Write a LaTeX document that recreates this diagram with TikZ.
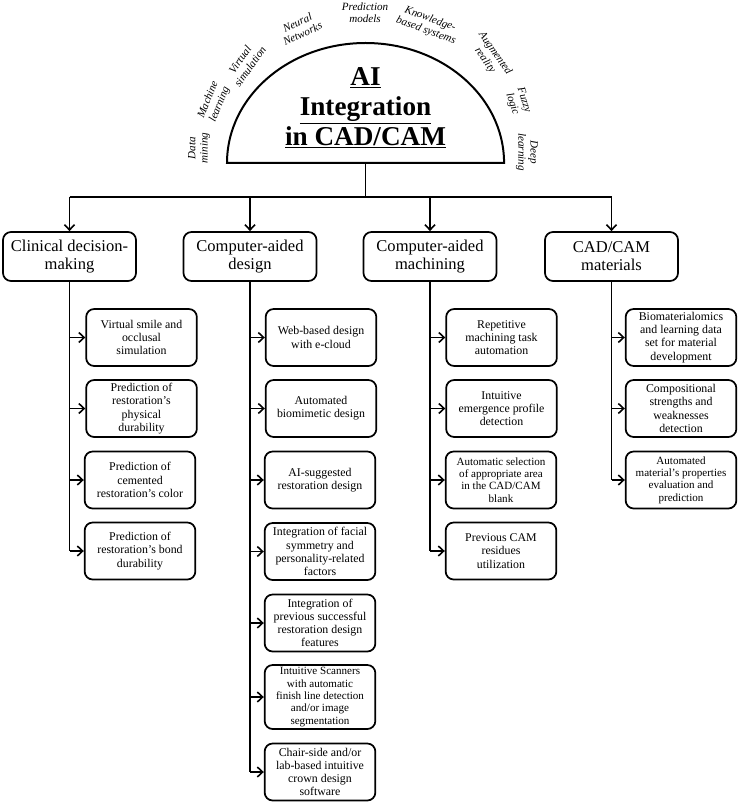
\documentclass[tikz,border=0pt]{standalone}
\usepackage{fontspec}
\setmainfont{Liberation Serif}
\usetikzlibrary{arrows.meta}
\begin{document}
\begin{tikzpicture}[x=0.75pt,y=-0.75pt,
  lw/.style={line width=1.3pt},
  arr/.style={lw,-{Straight Barb[length=4pt,width=7.5pt,line width=1.2pt]}},
  hdr/.style={draw,lw,rounded corners=6pt,align=center,minimum width=99.75pt,minimum height=36.75pt,inner sep=1pt,font=\fontsize{12.4}{13.6}\selectfont},
  box/.style={draw,lw,rounded corners=6pt,align=center,minimum width=83pt,minimum height=42.75pt,inner sep=1pt,font=\fontsize{8.9}{9.9}\selectfont},
  sbox/.style={box,font=\fontsize{8.3}{9.2}\selectfont},
  lab/.style={align=center,inner sep=0pt,font=\fontsize{8.3}{9.2}\selectfont\itshape}]
\useasboundingbox[fill=white] (0,0) rectangle (741,805);

% semicircle
\coordinate (base) at (365.5,163);
\draw[lw,line width=1.5pt] (227,163) arc[start angle=180,end angle=0,x radius=103.9pt,y radius=90pt] -- cycle;
\node[align=center,font=\fontsize{20.4}{22.5}\selectfont\bfseries] (ai) at (365.5,108)
  {\underline{AI}\\\underline{Integration}\\\underline{in CAD/CAM}};

% labels round the arc
\node[lab,rotate=90] (l1) at (199,148) {Data\\mining};
\node[lab,rotate=68] (l2) at (214,102) {Machine\\learning};
\node[lab,rotate=55] (l3) at (245,63) {Virtual\\simulation};
\node[lab,rotate=25] (l4) at (300,28) {Neural\\Networks};
\node[lab] (l5) at (365,13) {Prediction\\models};
\node[lab,rotate=-20] (l6) at (428,25) {Knowledge-\\based systems};
\node[lab,rotate=-55] (l7) at (490,57) {Augmented\\reality};
\node[lab,rotate=-72] (l8) at (518,102) {Fuzzy\\logic};
\node[lab,rotate=-90] (l9) at (527,152) {Deep\\learning};

% headers
\node[hdr] (h1) at (69.5,256.5) {Clinical decision-\\making};
\node[hdr] (h2) at (250,256.5) {Computer-aided\\design};
\node[hdr] (h3) at (430,256.5) {Computer-aided\\machining};
\node[hdr] (h4) at (611.5,256.5) {CAD/CAM\\materials};

\coordinate (bar) at (365.5,197);
\draw[lw] (base) -- (bar);
\draw[lw] (h1.north |- bar) -- (h4.north |- bar);
\foreach \h in {h1,h2,h3,h4} \draw[arr] (\h.north |- bar) -- (\h.north);

% column 1
\node[box] (a1) at (141.5,337.5) {Virtual smile and\\occlusal\\simulation};
\node[box] (a2) at (141.5,408.5) {Prediction of\\restoration's\\physical\\durability};
\node[box] (a3) at (140,480) {Prediction of\\cemented\\restoration's color};
\node[box] (a4) at (140,551) {Prediction of\\restoration's bond\\durability};

% column 2
\node[box] (b1) at (321,337.5) {Web-based design\\with e-cloud};
\node[box] (b2) at (321,408.5) {Automated\\biomimetic design};
\node[box] (b3) at (320,480) {AI-suggested\\restoration design};
\node[box] (b4) at (320,551.5) {Integration of facial\\symmetry and\\personality-related\\factors};
\node[box] (b5) at (320,623) {Integration of\\previous successful\\restoration design\\features};
\node[sbox,minimum height=48pt] (b6) at (320,697) {Intuitive Scanners\\with automatic\\finish line detection\\and/or image\\segmentation};
\node[box] (b7) at (320,772) {Chair-side and/or\\lab-based intuitive\\crown design\\software};

% column 3
\node[box] (c1) at (501.5,337.5) {Repetitive\\machining task\\automation};
\node[box] (c2) at (501.5,408.5) {Intuitive\\emergence profile\\detection};
\node[sbox] (c3) at (501,480) {Automatic selection\\of appropriate area\\in the CAD/CAM\\blank};
\node[box] (c4) at (501,551) {Previous CAM\\residues\\utilization};

% column 4
\node[box] (d1) at (681,337.5) {Biomaterialomics\\and learning data\\set for material\\development};
\node[box] (d2) at (681,408.5) {Compositional\\strengths and\\weaknesses\\detection};
\node[sbox] (d3) at (681,480) {Automated\\material's properties\\evaluation and\\prediction};

% trunks
\draw[lw] (h1.south) -- (h1.south |- a4.west);
\foreach \n in {a1,a2,a3,a4} \draw[arr] (h1.south |- \n.west) -- (\n.west);
\draw[lw] (h2.south) -- (h2.south |- b7.west);
\foreach \n in {b1,b2,b3,b4,b5,b6,b7} \draw[arr] (h2.south |- \n.west) -- (\n.west);
\draw[lw] (h3.south) -- (h3.south |- c4.west);
\foreach \n in {c1,c2,c3,c4} \draw[arr] (h3.south |- \n.west) -- (\n.west);
\draw[lw] (h4.south) -- (h4.south |- d3.west);
\foreach \n in {d1,d2,d3} \draw[arr] (h4.south |- \n.west) -- (\n.west);
\end{tikzpicture}
\end{document}
